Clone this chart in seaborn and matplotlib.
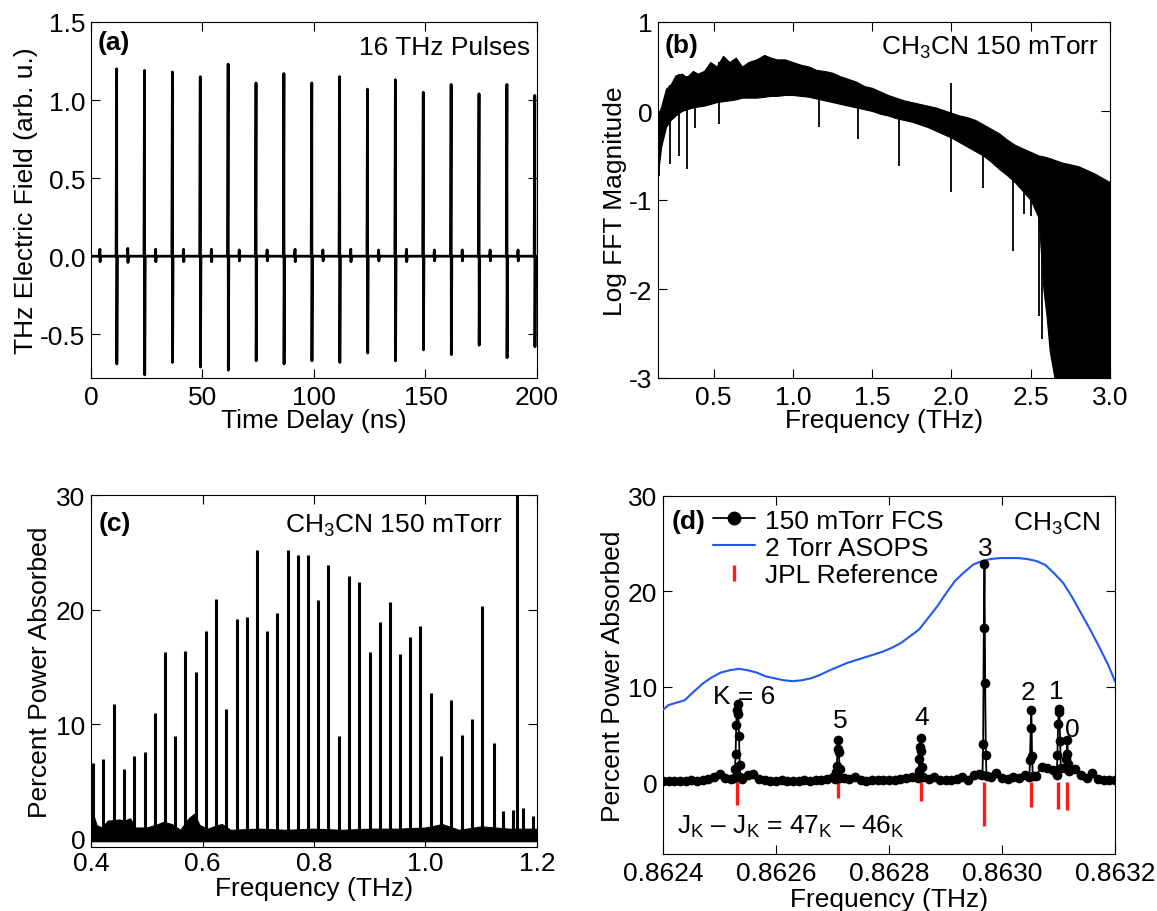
import numpy as np
import pandas as pd
import matplotlib
matplotlib.use("Agg")
import matplotlib.pyplot as plt
import seaborn as sns
from matplotlib.lines import Line2D

# ---------------- data ----------------
# (a) pulse train
pulse_t = [11.5, 24.0, 36.5, 49.0, 61.5, 74.0, 86.5, 99.0, 111.5, 124.0, 136.5, 149.0, 161.5, 174.0, 186.5, 199.0]
pulse_pos = [1.20, 1.19, 1.18, 1.15, 1.23, 1.11, 1.17, 1.11, 1.15, 1.07, 1.13, 1.05, 1.10, 1.04, 1.10, 1.03]
pulse_neg = [-0.69, -0.76, -0.68, -0.71, -0.73, -0.67, -0.69, -0.67, -0.68, -0.62, -0.67, -0.60, -0.63, -0.57, -0.65, -0.58]
sat_t = [4.0, 16.5, 29.0, 41.5, 54.0, 66.5, 79.0, 91.5, 104.0, 116.5, 129.0, 141.5, 154.0, 166.5, 179.0, 191.5]
sat_pos = [0.045, 0.05, 0.045, 0.045, 0.045, 0.04, 0.04, 0.045, 0.04, 0.045, 0.04, 0.045, 0.04, 0.04, 0.04, 0.04]
sat_neg = [-0.035, -0.04, -0.035, -0.035, -0.035, -0.03, -0.03, -0.035, -0.03, -0.035, -0.03, -0.035, -0.03, -0.03, -0.03, -0.03]

# (b) log FFT magnitude: envelope of the dense spectrum
b_freq = [0.15, 0.17, 0.20, 0.23, 0.26, 0.30, 0.33, 0.37, 0.40, 0.44, 0.48, 0.52, 0.56, 0.60, 0.64, 0.68,
          0.72, 0.77, 0.82, 0.86, 0.90, 0.95, 1.00, 1.05, 1.10, 1.15, 1.20, 1.25, 1.30, 1.35, 1.40, 1.45,
          1.50, 1.55, 1.60, 1.65, 1.70, 1.75, 1.80, 1.85, 1.90, 1.95, 2.00, 2.05, 2.10, 2.15, 2.20, 2.25,
          2.30, 2.35, 2.40, 2.45, 2.50, 2.55, 2.58, 2.60, 2.62, 2.65, 2.70, 2.75, 2.80, 2.85, 2.90, 2.95, 3.00]
b_upper = [-0.05, 0.05, 0.25, 0.30, 0.40, 0.42, 0.38, 0.45, 0.42, 0.45, 0.55, 0.50, 0.62, 0.55, 0.60, 0.50,
           0.55, 0.58, 0.63, 0.60, 0.58, 0.58, 0.55, 0.52, 0.50, 0.46, 0.45, 0.43, 0.39, 0.36, 0.33, 0.28,
           0.26, 0.22, 0.18, 0.15, 0.12, 0.10, 0.08, 0.06, 0.04, 0.01, -0.02, -0.05, -0.07, -0.10, -0.15, -0.20,
           -0.25, -0.32, -0.38, -0.42, -0.46, -0.50, -0.51, -0.52, -0.53, -0.55, -0.58, -0.60, -0.62, -0.66, -0.70, -0.75, -0.80]
b_lower = [-0.70, -0.40, -0.18, -0.10, -0.05, 0.00, 0.02, 0.04, 0.05, 0.06, 0.08, 0.10, 0.11, 0.12, 0.13, 0.15,
           0.15, 0.15, 0.16, 0.17, 0.17, 0.18, 0.18, 0.17, 0.16, 0.14, 0.12, 0.10, 0.08, 0.06, 0.04, 0.02,
           0.00, -0.03, -0.05, -0.08, -0.10, -0.12, -0.15, -0.18, -0.22, -0.26, -0.30, -0.35, -0.40, -0.45, -0.50, -0.57,
           -0.65, -0.72, -0.80, -0.90, -1.00, -1.20, -2.00, -2.30, -2.70, -3.00, -3.00, -3.00, -3.00, -3.00, -3.00, -3.00, -3.00]
b_dip_f = [0.155, 0.223, 0.284, 0.336, 0.382, 0.536, 1.166, 1.411, 1.672, 1.999, 2.198, 2.39, 2.46, 2.505, 2.555, 2.573]
b_dip_v = [-0.73, -0.60, -0.50, -0.65, -0.19, -0.15, -0.18, -0.32, -0.62, -0.91, -0.86, -1.57, -1.16, -1.18, -2.30, -2.56]
b_spike_f = [1.999]
b_spike_v = [0.32]

# (c) absorption comb lines
c_freq = [0.403, 0.422, 0.441, 0.459, 0.477, 0.496, 0.514, 0.533, 0.551, 0.569, 0.588, 0.606, 0.624, 0.642, 0.661,
          0.679, 0.697, 0.716, 0.734, 0.753, 0.771, 0.789, 0.807, 0.826, 0.845, 0.863, 0.881, 0.900, 0.918, 0.937,
          0.955, 0.973, 0.991, 1.010, 1.028, 1.046, 1.065, 1.083, 1.101, 1.122, 1.139, 1.157, 1.165, 1.175, 1.193]
c_height = [6.6, 7.0, 11.8, 6.1, 7.2, 7.6, 11.0, 16.3, 9.0, 16.4, 14.6, 18.1, 20.9, 11.3, 19.2,
            19.4, 25.2, 18.1, 19.7, 25.2, 24.8, 24.8, 20.8, 23.9, 9.0, 22.9, 22.4, 16.3, 18.9, 20.7,
            16.1, 17.6, 18.6, 12.7, 7.2, 12.1, 9.1, 10.5, 20.3, 8.4, 2.4, 2.5, 32.0, 2.7, 2.0]
c_base_f = [0.400, 0.405, 0.410, 0.420, 0.430, 0.450, 0.460, 0.470, 0.480, 0.500, 0.520, 0.530, 0.545, 0.560,
            0.575, 0.585, 0.595, 0.610, 0.625, 0.635, 0.650, 0.700, 0.750, 0.800, 0.850, 0.900, 0.950, 1.000,
            1.030, 1.060, 1.100, 1.150, 1.200]
c_base_top = [3.8, 2.0, 1.2, 1.0, 1.6, 1.7, 1.6, 1.8, 1.0, 1.0, 1.3, 1.5, 1.3, 0.8,
              1.8, 2.2, 1.2, 0.9, 1.2, 1.3, 0.8, 0.9, 0.8, 0.9, 0.8, 0.9, 0.9, 1.0,
              1.3, 0.8, 1.1, 0.9, 0.9]

# (d) zoom on J=47-46 K-ladder
d_base_val = [0.1, 0.15, 0.1, 0.15, 0.1, 0.2, 0.15, 0.3,
              0.4, 0.6, 0.9, 0.5, 0.4,
              0.6, 0.4, 0.8, 0.9, 0.4, 0.2,
              0.15, 0.1, 0.2, 0.1, 0.15, 0.1, 0.2, 0.15, 0.2,
              0.3, 0.4, 0.6,
              1.0, 0.5, 0.4, 0.6, 0.2,
              0.15, 0.2, 0.3, 0.2, 0.25,
              0.3, 0.4, 0.5, 0.6, 0.8, 0.7, 0.4, 0.6, 0.3, 0.3, 0.2,
              0.4, 0.6, 0.3, 0.8, 0.9,
              0.5, 0.6, 1.0, 0.5, 0.4, 0.6, 0.5, 0.8, 0.5, 0.7,
              1.6, 1.5, 1.3, 1.4, 1.8, 1.7, 1.4, 0.8, 0.5, 1.0, 0.4, 0.2, 0.3, 0.2]
d_peak_center = [0.8625321, 0.8627101, 0.8628561, 0.8629690, 0.8630520, 0.8631005, 0.8631158]
d_peak_vals = [
    [0.5, 1.4, 3.0, 6.0, 7.6, 8.2, 7.2, 4.9, 1.8, 0.6],
    [0.4, 1.05, 1.75, 3.5, 4.4, 3.2, 1.4, 0.5],
    [0.5, 1.2, 2.5, 3.7, 4.7, 3.3, 1.6, 0.6],
    [0.8, 4.0, 16.2, 22.9, 10.4, 2.9, 0.7],
    [0.6, 2.3, 5.7, 7.6, 2.8, 0.7],
    [0.8, 2.9, 6.1, 7.7, 7.4, 4.3, 1.5],
    [1.5, 2.4, 3.0, 4.4, 1.9, 1.2],
]
d_asops_f = [0.8624000, 0.8624096, 0.8624383, 0.8624543, 0.8624702, 0.8624862, 0.8625021, 0.8625180,
             0.8625340, 0.8625500, 0.8625660, 0.8625819, 0.8625978, 0.8626138, 0.8626297, 0.8626457,
             0.8626616, 0.8626776, 0.8626935, 0.8627254, 0.8627573, 0.8627892, 0.8628051, 0.8628211,
             0.8628370, 0.8628530, 0.8628690, 0.8628849, 0.8629009, 0.8629168, 0.8629328, 0.8629487,
             0.8629647, 0.8629806, 0.8629966, 0.8630125, 0.8630285, 0.8630444, 0.8630604, 0.8630763,
             0.8630923, 0.8631082, 0.8631242, 0.8631401, 0.8631561, 0.8631720, 0.8631880, 0.8632006]
d_asops_v = [7.6, 8.1, 8.6, 9.5, 10.35, 11.0, 11.5, 11.75,
             11.9, 11.75, 11.5, 11.1, 10.9, 10.7, 10.6, 10.7,
             10.9, 11.25, 11.7, 12.5, 13.1, 13.7, 14.1, 14.6,
             15.3, 16.0, 17.2, 18.4, 19.8, 21.1, 22.0, 22.8,
             23.2, 23.4, 23.5, 23.5, 23.5, 23.4, 23.2, 22.8,
             21.9, 20.9, 19.4, 17.7, 16.0, 14.2, 12.3, 10.5]
jpl_f = [0.8625308, 0.8627101, 0.8628561, 0.8629690, 0.8630520, 0.8630998, 0.8631158]
jpl_len = [2.4, 1.6, 1.9, 4.6, 2.6, 2.8, 2.9]
k_labels = ["K = 6", "5", "4", "3", "2", "1", "0"]
k_label_f = [0.8625435, 0.8627145, 0.8628574, 0.8629697, 0.8630462, 0.8630954, 0.8631241]
k_label_v = [9.1, 6.5, 6.9, 24.6, 9.5, 9.6, 5.6]

# ---------------- style ----------------
sns.set_theme(style="ticks")
plt.rcParams.update({
    "font.family": ["Liberation Sans", "DejaVu Sans"],
    "mathtext.fontset": "custom",
    "mathtext.rm": "Liberation Sans",
    "mathtext.it": "Liberation Sans:italic",
    "mathtext.bf": "Liberation Sans:bold",
    "mathtext.default": "regular",
    "axes.unicode_minus": False,
    "axes.linewidth": 0.8,
    "axes.edgecolor": "black",
    "axes.labelcolor": "black",
    "text.color": "black",
    "xtick.color": "black",
    "ytick.color": "black",
})
FS = 19
fig = plt.figure(figsize=(11.57, 9.12), dpi=100)
W, H = 1157.0, 912.0


def make_ax(l, r, t, b):
    return fig.add_axes([l / W, 1 - b / H, (r - l) / W, (b - t) / H])


axa = make_ax(91, 537, 23, 379)
axb = make_ax(658, 1110, 23, 379)
axc = make_ax(91, 537, 496, 848)
axd = make_ax(663, 1115, 497, 855)

for ax in (axa, axb, axc, axd):
    ax.tick_params(direction="in", length=6.5, width=0.8, top=True, right=True, labelsize=FS)
    ax.tick_params(axis="x", pad=5)
    ax.tick_params(axis="y", pad=4)
    for s in ax.spines.values():
        s.set_linewidth(0.8)
        s.set_color("black")
axc.tick_params(axis="x", pad=3)

# ---------------- (a) ----------------
events = [(t, p, n) for t, p, n in zip(pulse_t, pulse_pos, pulse_neg)] + \
         [(t, p, n) for t, p, n in zip(sat_t, sat_pos, sat_neg)]
events.sort()
tt, yy = [0.0], [0.0]
for t, p, n in events:
    tt += [t - 0.25, t, t + 0.08, t + 0.3]
    yy += [0.0, p, n, 0.0]
tt.append(200.0)
yy.append(0.0)
dfa = pd.DataFrame({"t": tt, "E": yy})
sns.lineplot(data=dfa, x="t", y="E", sort=False, estimator=None, color="black", lw=2.0, ax=axa)
axa.set_xlim(0, 200)
axa.set_ylim(-0.78, 1.5)
axa.set_xticks([0, 50, 100, 150, 200])
axa.set_yticks([-0.5, 0.0, 0.5, 1.0, 1.5])
axa.set_yticklabels(["-0.5", "0.0", "0.5", "1.0", "1.5"])
axa.set_xlabel("Time Delay (ns)", fontsize=FS)
axa.set_ylabel("THz Electric Field (arb. u.)", fontsize=FS)
axa.text(0.014, 0.945, "(a)", transform=axa.transAxes, fontsize=FS, fontweight="bold", va="center", ha="left")
axa.text(0.984, 0.93, "16 THz Pulses", transform=axa.transAxes, fontsize=FS, va="center", ha="right")

# ---------------- (b) ----------------
axb.fill_between(b_freq, b_lower, b_upper, color="black", lw=0.8)
dip_top = np.interp(b_dip_f, b_freq, b_upper)
axb.vlines(b_dip_f, b_dip_v, dip_top, color="black", lw=1.3)
axb.vlines(b_spike_f, np.interp(b_spike_f, b_freq, b_lower), b_spike_v, color="black", lw=1.3)
axb.set_xlim(0.15, 3.0)
axb.set_ylim(-3, 1)
axb.set_xticks([0.5, 1.0, 1.5, 2.0, 2.5, 3.0])
axb.set_xticklabels(["0.5", "1.0", "1.5", "2.0", "2.5", "3.0"])
axb.set_yticks([-3, -2, -1, 0, 1])
axb.set_yticklabels(["-3", "-2", "-1", "0", "1"])
axb.set_xlabel("Frequency (THz)", fontsize=FS)
axb.set_ylabel("Log FFT Magnitude", fontsize=FS)
axb.text(0.015, 0.935, "(b)", transform=axb.transAxes, fontsize=FS, fontweight="bold", va="center", ha="left")
axb.text(0.975, 0.93, "CH$_3$CN 150 mTorr", transform=axb.transAxes, fontsize=FS, va="center", ha="right")

# ---------------- (c) ----------------
axc.fill_between(c_base_f, -0.2, c_base_top, color="black", lw=0.8)
axc.vlines(c_freq, 0, c_height, color="black", lw=2.2)
axc.set_xlim(0.4, 1.2)
axc.set_ylim(-0.7, 30)
axc.set_xticks([0.4, 0.6, 0.8, 1.0, 1.2])
axc.set_xticklabels(["0.4", "0.6", "0.8", "1.0", "1.2"])
axc.set_yticks([0, 10, 20, 30])
axc.set_xlabel("Frequency (THz)", fontsize=FS)
axc.set_ylabel("Percent Power Absorbed", fontsize=FS)
axc.text(0.018, 0.92, "(c)", transform=axc.transAxes, fontsize=FS, fontweight="bold", va="center", ha="left")
axc.text(0.923, 0.915, "CH$_3$CN 150 mTorr", transform=axc.transAxes, fontsize=FS, va="center", ha="right")

# ---------------- (d) ----------------
step = 1.2e-6
base_f = np.linspace(0.8624, 0.8632, len(d_base_val))
base_v = np.array(d_base_val)
keep = np.ones(len(base_f), bool)
pf, pv = [], []
for c, vals in zip(d_peak_center, d_peak_vals):
    n = len(vals)
    imax = int(np.argmax(vals))
    xs = c + (np.arange(n) - imax) * step
    pf += list(xs)
    pv += list(vals)
    keep &= ~((base_f > xs.min() - 3e-6) & (base_f < xs.max() + 3e-6))
fcs_f = np.concatenate([base_f[keep], pf])
fcs_v = np.concatenate([base_v[keep], pv])
order = np.argsort(fcs_f)
dfd = pd.DataFrame({"f": fcs_f[order], "v": fcs_v[order]})

axd.vlines(jpl_f, [-l for l in jpl_len], 0, color="#ff1a1a", lw=2.4, zorder=2)
sns.lineplot(data=pd.DataFrame({"f": d_asops_f, "v": d_asops_v}), x="f", y="v",
             color="#1f5af0", lw=1.5, estimator=None, ax=axd, zorder=3)
sns.lineplot(data=dfd, x="f", y="v", sort=False, estimator=None, color="black", lw=1.3,
             marker="o", markersize=7, markeredgewidth=0, ax=axd, zorder=4)
for lab, f, v in zip(k_labels, k_label_f, k_label_v):
    axd.text(f, v, lab, fontsize=FS, ha="center", va="center", zorder=5)
axd.text(0.8624255, -4.56, "J$_K$ – J$_K$ = 47$_K$ – 46$_K$", fontsize=FS, ha="left", va="center")
axd.set_xlim(0.8624, 0.8632)
axd.set_ylim(-7.5, 30)
axd.set_xticks([0.8624, 0.8626, 0.8628, 0.8630, 0.8632])
axd.set_xticklabels(["0.8624", "0.8626", "0.8628", "0.8630", "0.8632"])
axd.set_yticks([0, 10, 20, 30])
axd.set_xlabel("Frequency (THz)", fontsize=FS)
axd.set_ylabel("Percent Power Absorbed", fontsize=FS)
axd.text(0.02, 0.93, "(d)", transform=axd.transAxes, fontsize=FS, fontweight="bold", va="center", ha="left")
axd.text(0.967, 0.925, "CH$_3$CN", transform=axd.transAxes, fontsize=FS, va="center", ha="right")
handles = [
    Line2D([], [], color="black", lw=1.3, marker="o", markersize=10, markeredgewidth=0),
    Line2D([], [], color="#1f5af0", lw=1.5),
    Line2D([], [], color="#ff1a1a", lw=0, marker="|", markersize=12, markeredgewidth=2.4),
]
axd.legend(handles, ["150 mTorr FCS", "2 Torr ASOPS", "JPL Reference"], loc="upper left",
           bbox_to_anchor=(0.11, 0.965), frameon=False, fontsize=FS, handlelength=1.6,
           handletextpad=0.4, labelspacing=0.12, borderpad=0.0, borderaxespad=0.0)

# label positions
axa.yaxis.set_label_coords(-0.119, 0.5)
axb.yaxis.set_label_coords(-0.068, 0.5)
axc.yaxis.set_label_coords(-0.087, 0.5)
axd.yaxis.set_label_coords(-0.085, 0.5)
axa.xaxis.set_label_coords(0.5, -0.085)
axb.xaxis.set_label_coords(0.5, -0.085)
axc.xaxis.set_label_coords(0.5, -0.082)
axd.xaxis.set_label_coords(0.5, -0.092)

fig.savefig("out.png", dpi=100)
